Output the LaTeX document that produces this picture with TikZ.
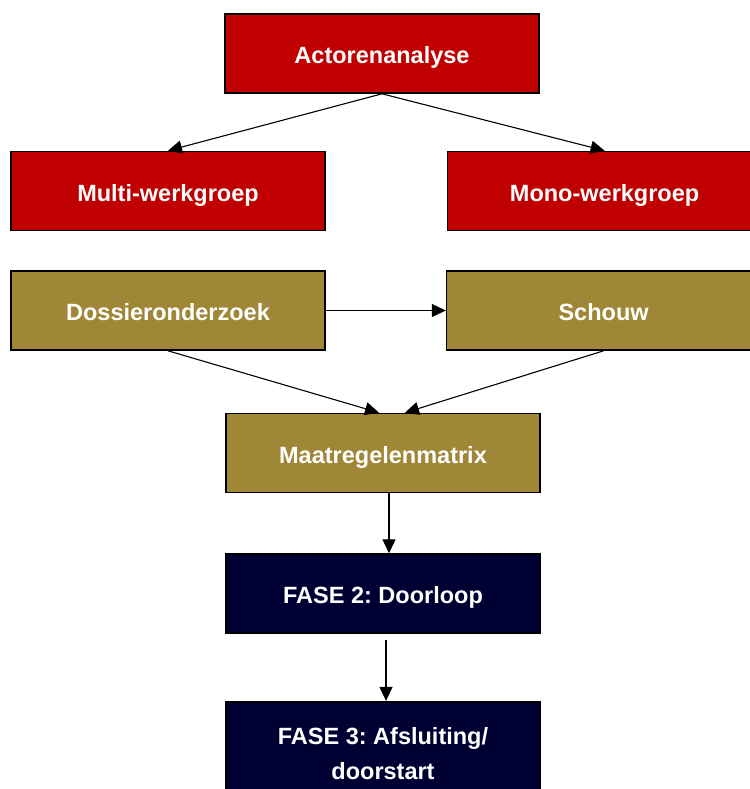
\documentclass[tikz,border=0pt]{standalone}
\usepackage{fontspec}
\setmainfont{Liberation Sans}
\usetikzlibrary{arrows.meta, positioning}

\definecolor{boxred}{HTML}{C00000}
\definecolor{boxgold}{HTML}{A08737}
\definecolor{boxnavy}{HTML}{000033}

\tikzset{
  box/.style={draw, line width=1.6pt, minimum width=314pt, minimum height=79pt,
    text=white, font=\fontsize{23.5}{35}\selectfont\bfseries\frenchspacing,
    align=center},
  one line/.style={text height=25pt, text depth=5pt},
  red box/.style={box, one line, fill=boxred},
  gold box/.style={box, one line, fill=boxgold},
  navy box/.style={box, fill=boxnavy},
  arr/.style={line width=1.1pt, -{Triangle[length=14pt, width=13pt]}}
}

\begin{document}
\begin{tikzpicture}[x=1pt, y=-1pt]
    \useasboundingbox (0,0) rectangle (749,789);

    \node[red box] (actor) at (382,53.5) {Actorenanalyse};
    \node[red box] (multi) at (168,191) {Multi-werkgroep};
    \node[red box, right = 121pt of multi] (mono) {Mono-werkgroep};

    \node[gold box] (dossier) at (168,310.5) {Dossieronderzoek};
    \node[gold box, right = 120pt of dossier] (schouw) {Schouw};
    \node[gold box] (maat) at (383,453) {Maatregelenmatrix};

    \node[navy box, one line, below = 60pt of maat] (fase2) {FASE 2: Doorloop};
    \node[navy box, minimum height=104pt, below = 67pt of fase2] (fase3)
      {FASE 3: Afsluiting/\\doorstart};

    \draw[arr] (actor.south) -- (multi.north);
    \draw[arr] (actor.south) -- (mono.north);

    \draw[arr] (dossier) -- (schouw);
    \draw[arr] (dossier.south) -- ([xshift=-4pt]maat.north);
    \draw[arr] (schouw.south) -- ([xshift=22pt]maat.north);

    \draw[arr] ([xshift=6pt]maat.south) -- ([xshift=6pt]fase2.north);
    \draw[arr] ([xshift=3pt, yshift=-6pt]fase2.south) -- ([xshift=3pt]fase3.north);
\end{tikzpicture}
\end{document}
